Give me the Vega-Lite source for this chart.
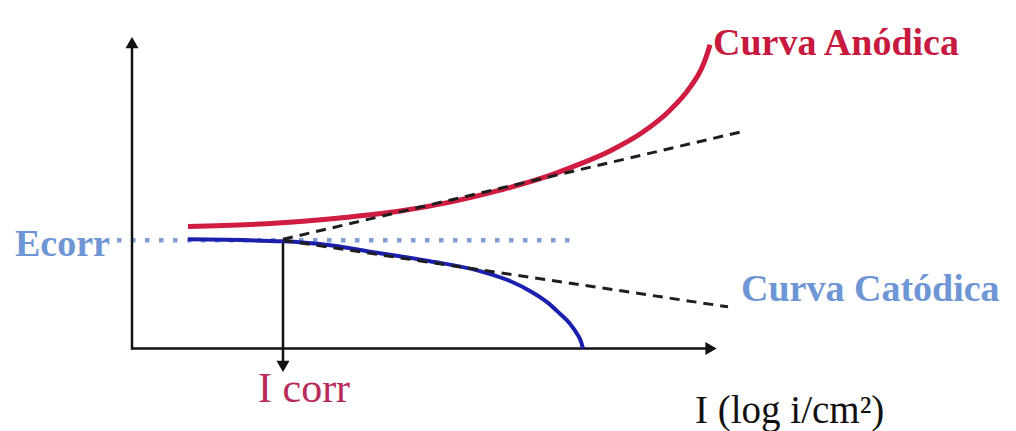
{
  "$schema": "https://vega.github.io/schema/vega-lite/v6.json",
  "width": 1016,
  "height": 431,
  "autosize": {"type": "fit", "contains": "padding"},
  "padding": 0,
  "background": "white",
  "config": {"view": {"stroke": null}},
  "datasets": {
    "curves": [
      {"series": "anodica", "x": 188, "y": 228},
      {"series": "anodica", "x": 250, "y": 226},
      {"series": "anodica", "x": 300, "y": 223},
      {"series": "anodica", "x": 350, "y": 218.5},
      {"series": "anodica", "x": 400, "y": 212.5},
      {"series": "anodica", "x": 450, "y": 203.5},
      {"series": "anodica", "x": 500, "y": 191.5},
      {"series": "anodica", "x": 540, "y": 180},
      {"series": "anodica", "x": 570, "y": 169},
      {"series": "anodica", "x": 610, "y": 152},
      {"series": "anodica", "x": 643, "y": 133},
      {"series": "anodica", "x": 670, "y": 111},
      {"series": "anodica", "x": 690, "y": 88},
      {"series": "anodica", "x": 702, "y": 68},
      {"series": "anodica", "x": 707, "y": 55},
      {"series": "anodica", "x": 710, "y": 45},
      {"series": "catodica", "x": 188, "y": 241},
      {"series": "catodica", "x": 283, "y": 243},
      {"series": "catodica", "x": 330, "y": 247},
      {"series": "catodica", "x": 380, "y": 255},
      {"series": "catodica", "x": 430, "y": 263},
      {"series": "catodica", "x": 480, "y": 273},
      {"series": "catodica", "x": 510, "y": 283},
      {"series": "catodica", "x": 530, "y": 293},
      {"series": "catodica", "x": 548, "y": 305},
      {"series": "catodica", "x": 560, "y": 316},
      {"series": "catodica", "x": 570, "y": 326},
      {"series": "catodica", "x": 577, "y": 336},
      {"series": "catodica", "x": 581, "y": 344},
      {"series": "catodica", "x": 583, "y": 351}
    ],
    "axes": [
      {"name": "eje y", "x": 132, "y": 352, "x2": 132, "y2": 46},
      {"name": "eje x", "x": 131, "y": 351, "x2": 710, "y2": 351},
      {"name": "icorr", "x": 283, "y": 242, "x2": 283, "y2": 368}
    ],
    "tafel": [
      {"name": "anodica", "x": 283, "y": 241, "x2": 740, "y2": 133},
      {"name": "catodica", "x": 283, "y": 242, "x2": 728, "y2": 309}
    ],
    "ecorr": [
      {"name": "ecorr", "x": 117, "y": 242, "x2": 572, "y2": 242}
    ],
    "arrows": [
      {"dir": "up", "x": 132, "y": 43},
      {"dir": "right", "x": 711, "y": 351},
      {"dir": "down", "x": 283, "y": 369}
    ],
    "labels": [
      {"label": "Curva Anódica", "x": 713, "y": 55},
      {"label": "Curva Catódica", "x": 741, "y": 303},
      {"label": "Ecorr", "x": 15, "y": 258},
      {"label": "I corr", "x": 258, "y": 405},
      {"label": "I (log i/cm²)", "x": 695, "y": 426}
    ]
  },
  "encoding": {
    "x": {"field": "x", "type": "quantitative", "scale": {"domain": [0, 1016], "nice": false, "zero": false}, "axis": null},
    "y": {"field": "y", "type": "quantitative", "scale": {"domain": [0, 431], "nice": false, "zero": false, "reverse": true}, "axis": null}
  },
  "layer": [
    {
      "data": {"name": "ecorr"},
      "mark": {"type": "rule", "color": "#7f9fd2", "strokeWidth": 4.5, "strokeDash": [4.5, 9.5], "strokeCap": "butt"},
      "encoding": {"x2": {"field": "x2"}, "y2": {"field": "y2"}}
    },
    {
      "data": {"name": "axes"},
      "mark": {"type": "rule", "color": "#111111", "strokeWidth": 2.5},
      "encoding": {"x2": {"field": "x2"}, "y2": {"field": "y2"}}
    },
    {
      "data": {"name": "curves"},
      "transform": [{"filter": "datum.series === 'anodica'"}],
      "mark": {"type": "line", "color": "#d01c40", "strokeWidth": 5, "interpolate": "monotone"},
      "encoding": {}
    },
    {
      "data": {"name": "curves"},
      "transform": [{"filter": "datum.series === 'catodica'"}],
      "mark": {"type": "line", "color": "#1a1fae", "strokeWidth": 4, "interpolate": "monotone"},
      "encoding": {}
    },
    {
      "data": {"name": "tafel"},
      "mark": {"type": "rule", "color": "#1e1e1e", "strokeWidth": 3, "strokeDash": [10, 7]},
      "encoding": {"x2": {"field": "x2"}, "y2": {"field": "y2"}}
    },
    {
      "data": {"name": "arrows"},
      "transform": [{"filter": "datum.dir === 'up'"}],
      "mark": {"type": "point", "shape": "triangle-up", "filled": true, "color": "#111111", "size": 170, "opacity": 1}
    },
    {
      "data": {"name": "arrows"},
      "transform": [{"filter": "datum.dir === 'right'"}],
      "mark": {"type": "point", "shape": "triangle-right", "filled": true, "color": "#111111", "size": 170, "opacity": 1}
    },
    {
      "data": {"name": "arrows"},
      "transform": [{"filter": "datum.dir === 'down'"}],
      "mark": {"type": "point", "shape": "triangle-down", "filled": true, "color": "#111111", "size": 170, "opacity": 1}
    },
    {
      "data": {"name": "labels"},
      "transform": [{"filter": "datum.label === 'Curva Anódica'"}],
      "mark": {"type": "text", "align": "left", "baseline": "alphabetic", "font": "Liberation Serif", "fontWeight": "bold", "fontSize": 38, "color": "#c8193f"},
      "encoding": {"text": {"field": "label"}}
    },
    {
      "data": {"name": "labels"},
      "transform": [{"filter": "datum.label === 'Curva Catódica' || datum.label === 'Ecorr'"}],
      "mark": {"type": "text", "align": "left", "baseline": "alphabetic", "font": "Liberation Serif", "fontWeight": "bold", "fontSize": 38, "color": "#6e96d4"},
      "encoding": {"text": {"field": "label"}}
    },
    {
      "data": {"name": "labels"},
      "transform": [{"filter": "datum.label === 'I corr'"}],
      "mark": {"type": "text", "align": "left", "baseline": "alphabetic", "font": "Liberation Serif", "fontSize": 42, "color": "#b82a5a"},
      "encoding": {"text": {"field": "label"}}
    },
    {
      "data": {"name": "labels"},
      "transform": [{"filter": "datum.label === 'I (log i/cm²)'"}],
      "mark": {"type": "text", "align": "left", "baseline": "alphabetic", "font": "Liberation Serif", "fontSize": 39, "color": "#111111"},
      "encoding": {"text": {"field": "label"}}
    }
  ]
}
